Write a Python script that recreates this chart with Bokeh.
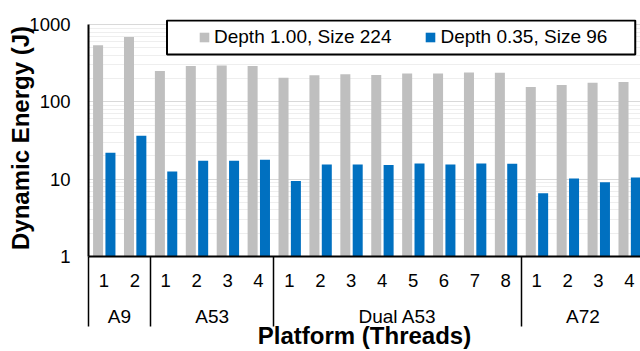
from bokeh.plotting import figure
from bokeh.models import (Range1d, FixedTicker, LinearAxis, Legend, LegendItem,
                          BoxAnnotation, ColumnDataSource)
from bokeh.transform import dodge
from bokeh.embed import file_html
from bokeh.resources import INLINE

# Platforms and how many thread settings each was measured with
platforms = ["A9", "A53", "Dual A53", "A72"]
thread_counts = [2, 4, 8, 4]

# Dynamic energy (J) per platform/thread setting
energy_full = [540, 690, 250, 290, 295, 290,
               205, 220, 228, 222, 232, 232, 240, 238,
               155, 165, 177, 180]
energy_small = [22, 36.5, 12.6, 17.3, 17.3, 17.8,
                9.5, 15.5, 15.5, 15.3, 16.0, 15.5, 16.0, 15.8,
                6.6, 10.2, 9.1, 10.5]
series_names = ["Depth 1.00, Size 224", "Depth 0.35, Size 96"]
y_ticks = [1, 10, 100, 1000]

FONT = "Liberation Sans"
GRAY = "#BFBFBF"
BLUE = "#0070C0"

# Category positions, thread tick labels, group centres and separators
thread_labels, group_centers, group_edges = [], [], [-0.5]
pos = 0
for n in thread_counts:
    thread_labels += [str(t) for t in range(1, n + 1)]
    group_centers.append(pos + (n - 1) / 2)
    pos += n
    group_edges.append(pos - 0.5)
idx = list(range(len(thread_labels)))

src = ColumnDataSource(dict(x=idx, full=energy_full, small=energy_small))

# a little headroom above 1000 so the legend box fits inside the frame
p = figure(width=640, height=351, y_axis_type="log",
           x_range=Range1d(-0.5, 17.36), y_range=Range1d(1, 1161),
           output_backend="svg", toolbar_location=None,
           min_border_left=88, min_border_right=0,
           min_border_top=19, min_border_bottom=95)
p.outline_line_color = None
p.background_fill_color = "white"
p.border_fill_color = "white"

r_full = p.vbar(x=dodge("x", -0.19, range=p.x_range), top="full", bottom=1,
                width=0.324, fill_color=GRAY, line_color=None, source=src)
r_small = p.vbar(x=dodge("x", 0.21, range=p.x_range), top="small", bottom=1,
                 width=0.324, fill_color=BLUE, line_color=None, source=src)

# y axis (log) with decade labels
minor_y = [m * 10 ** k for k in range(3) for m in range(2, 10)]
y_ticker = FixedTicker(ticks=y_ticks, minor_ticks=minor_y)
yax = p.yaxis[0]
yax.ticker = y_ticker
yax.bounds = (1, 1000)
yax.major_label_overrides = {t: str(t) for t in y_ticks}
yax.major_label_text_font = FONT
yax.major_label_text_font_size = "18.5px"
yax.major_label_text_color = "black"
yax.major_label_standoff = 18
yax.major_tick_out = 0
yax.major_tick_in = 0
yax.minor_tick_line_color = None
yax.minor_tick_out = 0
yax.axis_line_color = "black"
yax.axis_line_width = 2
yax.axis_label = "Dynamic Energy (J)"
yax.axis_label_text_font = FONT
yax.axis_label_text_font_size = "24px"
yax.axis_label_text_font_style = "bold"
yax.axis_label_text_color = "black"
yax.axis_label_standoff = -8

p.ygrid[0].ticker = y_ticker
p.ygrid.grid_line_color = "#D9D9D9"
p.ygrid.grid_line_width = 1
p.ygrid.minor_grid_line_color = "#EEEEEE"
p.xgrid.visible = False

# thread numbers, with long minor ticks as group separators
xax = p.xaxis[0]
xax.ticker = FixedTicker(ticks=idx, minor_ticks=group_edges)
xax.major_label_overrides = {i: lab for i, lab in zip(idx, thread_labels)}
xax.major_label_text_font = FONT
xax.major_label_text_font_size = "18.5px"
xax.major_label_text_color = "black"
xax.major_label_standoff = -53
xax.major_tick_out = 0
xax.major_tick_in = 0
xax.minor_tick_in = 0
xax.minor_tick_out = 70
xax.minor_tick_line_color = "black"
xax.minor_tick_line_width = 1.5
xax.axis_line_color = "black"
xax.axis_line_width = 2

# platform names underneath
gax = LinearAxis(ticker=FixedTicker(ticks=group_centers, minor_ticks=[]),
                 major_label_overrides={c: name for c, name in zip(group_centers, platforms)},
                 axis_line_color=None, major_tick_line_color=None,
                 minor_tick_line_color=None, major_tick_out=0, minor_tick_out=0,
                 major_label_standoff=16,
                 major_label_text_font=FONT, major_label_text_font_size="19px",
                 major_label_text_color="black",
                 axis_label="Platform (Threads)", axis_label_standoff=-8,
                 axis_label_text_font=FONT, axis_label_text_font_size="24px",
                 axis_label_text_font_style="bold", axis_label_text_color="black")
p.add_layout(gax, "below")

# legend frame and legend
frame = BoxAnnotation(left=2.04, right=17.19, bottom=409, top=1125,
                      fill_color="white", fill_alpha=1.0,
                      line_color="black", line_alpha=1.0, line_width=2)
p.add_layout(frame)

legend = Legend(items=[LegendItem(label=series_names[0], renderers=[r_full]),
                       LegendItem(label=series_names[1], renderers=[r_small])],
                orientation="horizontal", location=(110, 208), margin=0,
                padding=8, spacing=33, glyph_width=12, glyph_height=12,
                label_standoff=4, label_text_font=FONT,
                label_text_font_size="19px", label_text_color="black",
                border_line_color=None, background_fill_alpha=0)
p.add_layout(legend)

open("out.html", "w").write(file_html(p, INLINE))
